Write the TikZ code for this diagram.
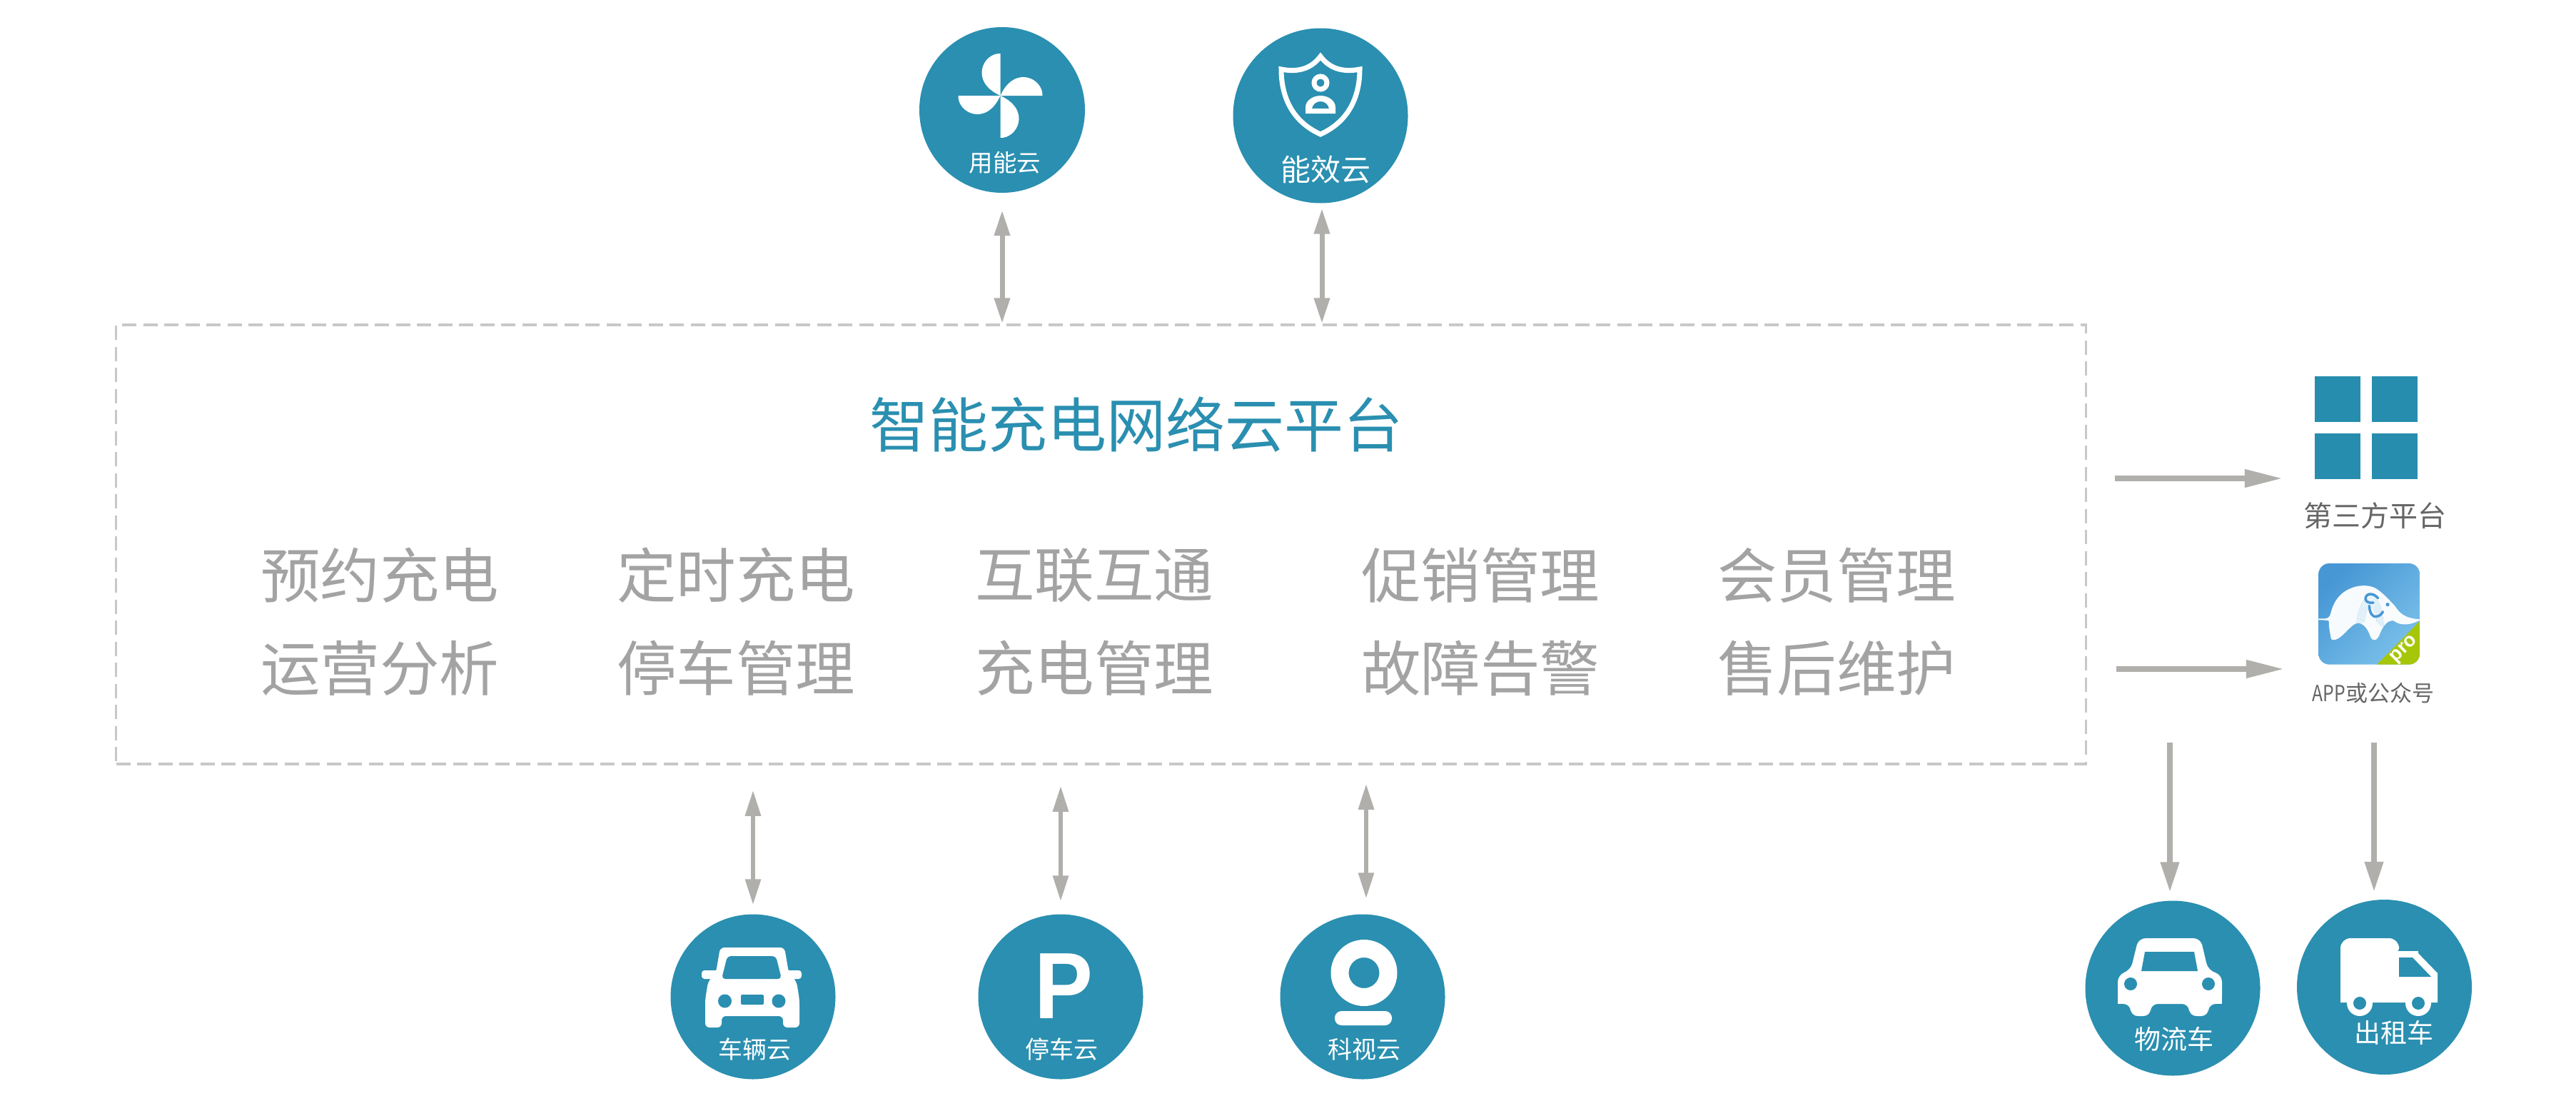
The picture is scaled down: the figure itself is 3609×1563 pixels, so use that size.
\documentclass[tikz,border=0pt]{standalone}
\usepackage{fontspec}
\usepackage{graphicx}
\setmainfont{Noto Sans CJK SC}
\newfontfamily\latinbold[BoldFont=Liberation Sans Bold]{Liberation Sans}
\usetikzlibrary{arrows.meta,calc}
\definecolor{teal1}{HTML}{2A8FB0}
\definecolor{teal2}{HTML}{278DAE}
\definecolor{arrowgrey}{HTML}{B0AFAB}
\definecolor{dashgrey}{HTML}{C8C8C8}
\definecolor{textgrey}{HTML}{A3A3A3}
\definecolor{labelgrey}{HTML}{666666}
\definecolor{appgreen}{HTML}{A6C60A}
\definecolor{appblueA}{HTML}{4797D5}
\definecolor{appblueB}{HTML}{7AC0E9}
\tikzset{
  disc/.style={circle,fill=teal1,inner sep=0pt,minimum size=#1},
  disclabel/.style={text=white,inner sep=0pt,font=\fontsize{#1}{#1}\selectfont},
  gridtext/.style={text=textgrey,inner sep=0pt,font=\fontsize{83.5}{90}\selectfont},
  square/.style={fill=teal2,inner sep=0pt,minimum size=64pt},
  biarrow/.style={draw=arrowgrey,line width=7pt,{Triangle[length=36pt,width=21pt]}-{Triangle[length=36pt,width=21pt]}},
  biarrowthin/.style={draw=arrowgrey,line width=6pt,{Triangle[length=36pt,width=21pt]}-{Triangle[length=36pt,width=21pt]}},
  downarrow/.style={draw=arrowgrey,line width=7.5pt,-{Triangle[length=42pt,width=25pt]}},
  rightarrow/.style={draw=arrowgrey,line width=7.5pt,-{Triangle[length=53pt,width=24pt]}},
}
\begin{document}
\begin{tikzpicture}[x=1pt,y=-1pt]
\useasboundingbox (0,0) rectangle (3609,1563);
\fill[white] (0,0) rectangle (3609,1563);

% main box
\node[draw=dashgrey,line width=3.5pt,dash pattern=on 20pt off 9.5pt,inner sep=0pt,
      minimum width=2760pt,minimum height=615pt] (box) at (1542.5,762.5) {};
\node[text=teal1,inner sep=0pt,font=\fontsize{83}{90}\selectfont] (title) at (1592,595) {智能充电网络云平台};
\node[gridtext] (g11) at (532,806) {预约充电};
\node[gridtext] (g12) at (1031,806) {定时充电};
\node[gridtext] (g13) at (1533,806) {互联互通};
\node[gridtext] (g14) at (2074,806) {促销管理};
\node[gridtext] (g15) at (2573,806) {会员管理};
\node[gridtext] (g21) at (532,936) {运营分析};
\node[gridtext] (g22) at (1031,936) {停车管理};
\node[gridtext] (g23) at (1533,936) {充电管理};
\node[gridtext] (g24) at (2074,936) {故障告警};
\node[gridtext] (g25) at (2573,936) {售后维护};

% discs
\node[disc=232pt] (yn) at (1404,154) {};
\node[disc=245pt] (nx) at (1850,162) {};
\node[disc=231pt] (cl) at (1055,1396) {};
\node[disc=231pt] (pk) at (1486,1396) {};
\node[disc=231pt] (ks) at (1909,1396) {};
\node[disc=245pt] (wl) at (3044,1384) {};
\node[disc=245pt] (cz) at (3340.5,1382.5) {};

% labels
\node[disclabel=33.5] (ynl) at (1408,228) {用能云};
\node[disclabel=42] (nxl) at (1857,238) {能效云};
\node[disclabel=34] (cll) at (1057,1470) {车辆云};
\node[disclabel=34] (pkl) at (1487,1470) {停车云};
\node[disclabel=34] (ksl) at (1911,1470) {科视云};
\node[disclabel=37] (wll) at (3046,1455) {物流车};
\node[disclabel=37] (czl) at (3354,1446) {出租车};

% pinwheel icon
\foreach \a in {0,90,180,270}
  \fill[white,shift={(1401.5,134)},rotate=\a] (0,0) -- (0,-59) .. controls (-24,-60) and (-44,-20) .. (0,0) -- cycle;

% shield icon
\draw[white,line width=7pt,line join=miter,miter limit=10]
  (1850,79) .. controls (1838,95) and (1820,102) .. (1795,97)
  .. controls (1795,135) and (1810,170) .. (1850,188)
  .. controls (1890,170) and (1905,135) .. (1905,97)
  .. controls (1880,102) and (1862,95) .. (1850,79) -- cycle;
\draw[white,line width=7pt] (1850,116) circle[radius=9];
\fill[white,even odd rule]
  (1829,159) -- (1829,150) .. controls (1829,142) and (1838,134) .. (1850,134)
  .. controls (1862,134) and (1871,142) .. (1871,150) -- (1871,159) -- cycle
  (1838,152) .. controls (1839,146) and (1844,142) .. (1850,142)
  .. controls (1856,142) and (1861,146) .. (1862,152) -- cycle;

% car icon (vehicle cloud)
\fill[white,rounded corners=6pt]
  (1003,1362) -- (1009,1327) -- (1099,1327) -- (1105,1362) -- (1116,1375) -- (1120,1400)
  -- (1120,1439) -- (1097,1439) -- (1097,1423) -- (1011,1423) -- (1011,1439) -- (988,1439)
  -- (988,1400) -- (992,1375) -- cycle;
\fill[white,rounded corners=4pt] (983,1359) rectangle (1123,1371);
\fill[teal1,rounded corners=5pt] (1019,1339) -- (1087,1339) -- (1095,1371) -- (1011,1371) -- cycle;
\fill[teal1] (1015.5,1402) circle[radius=9.5];
\fill[teal1] (1091,1402) circle[radius=9.5];
\fill[teal1,rounded corners=2pt] (1038,1393) rectangle (1070,1407);

% P icon
\node[text=white,inner sep=0pt,font=\latinbold\bfseries\fontsize{132}{132}\selectfont] (pglyph) at (1490,1381) {\scalebox{.93}[1]{P}};

% camera icon
\fill[white,even odd rule] (1911,1362.5) circle[radius=46.5] (1911,1362.5) circle[radius=21.5];
\fill[white,rounded corners=9.5pt] (1870,1416) rectangle (1950,1436);

% car icon (logistics)
\fill[white,rounded corners=10pt]
  (2985,1359) -- (2996,1314) -- (3083,1314) -- (3093.5,1359) -- (3113,1365) -- (3113,1406)
  -- (3094,1406) -- (3094,1423) -- (3067,1423) -- (3067,1406) -- (3013,1406) -- (3013,1423)
  -- (2985,1423) -- (2985,1406) -- (2967,1406) -- (2967,1365) -- cycle;
\fill[white] (2967,1385) rectangle (3113,1406);
\fill[white] (3013,1400) rectangle (3067,1406);
\fill[white] (2975,1385) rectangle (3105,1400);
\fill[teal1] (3005,1333) -- (3074,1333) -- (3079,1360) -- (3000,1360) -- cycle;
\fill[teal1] (2985,1378) circle[radius=9];
\fill[teal1] (3094,1378) circle[radius=9];

% truck icon
\fill[white,rounded corners=14pt]
  (3279,1404) -- (3279,1314) -- (3361,1314) -- (3361,1340) -- (3355,1332) [sharp corners] -- (3385,1332) -- (3415,1363) -- (3415,1404) -- cycle;
\fill[white] (3355,1332) rectangle (3388,1345);
\fill[white] (3306,1405) circle[radius=18];
\fill[white] (3388,1405) circle[radius=18];
\fill[teal1] (3361,1341) -- (3380,1341) -- (3406,1368) -- (3361,1368) -- cycle;
\fill[teal1] (3306,1405) circle[radius=9];
\fill[teal1] (3388,1405) circle[radius=9];

% third-party platform
\node[square] (s1) at (3275,559) {};
\node[square] (s2) at (3355,559) {};
\node[square] (s3) at (3275,639) {};
\node[square] (s4) at (3355,639) {};
\node[text=labelgrey,inner sep=0pt,font=\fontsize{40}{40}\selectfont] (tpl) at (3327,722) {第三方平台};

% app icon
\node[inner sep=0pt,minimum size=142pt] (app) at (3319,860) {};
\begin{scope}[shift={(3240,780)},x=.33333pt,y=-.33333pt]
  \begin{scope}
    \clip[rounded corners=15pt] (25,27) rectangle (450,452);
    \shade[top color=appblueA,bottom color=appblueB,shading angle=45] (25,27) rectangle (450,452);
    \fill[appgreen] (450,270) -- (450,452) -- (270,452) -- cycle;
    \fill[white,opacity=.96]
      (25,259) -- (52,259) .. controls (65,259) and (72,250) .. (75,240)
      .. controls (85,195) and (110,150) .. (165,130)
      .. controls (195,118) and (240,115) .. (270,135)
      .. controls (300,155) and (325,185) .. (345,205)
      .. controls (365,235) and (385,258) .. (450,262)
      -- (450,266)
      .. controls (420,282) and (375,295) .. (340,268)
      .. controls (315,265) and (295,290) .. (282,325)
      .. controls (272,350) and (255,360) .. (243,335)
      .. controls (232,305) and (220,285) .. (195,278)
      .. controls (170,275) and (145,315) .. (118,335)
      .. controls (100,350) and (85,352) .. (78,345)
      .. controls (72,315) and (68,295) .. (68,268)
      .. controls (60,266) and (45,265) .. (25,265) -- cycle;
    \foreach \s in {0.9,0.8,0.7,0.6,0.5,0.4}
      \draw[appblueB,opacity=.45,line width=.7pt]
        ($(245,250)+(-70*\s,60*\s)$) .. controls ($(245,250)+(-55*\s,-150*\s)$) and ($(245,250)+(55*\s,-150*\s)$) .. ($(245,250)+(60*\s,60*\s)$);
    \draw[appblueA,line width=3.5pt,line cap=round,line join=round]
      (275,173) .. controls (255,150) and (225,150) .. (222,175)
      .. controls (222,190) and (240,195) .. (255,192)
      (238,205) .. controls (240,235) and (250,255) .. (270,250)
      .. controls (282,248) and (290,240) .. (295,230);
    \fill[appblueA] (315,200) circle[radius=2.6pt];
  \end{scope}
\end{scope}
\node[text=white,inner sep=0pt,rotate=45,font=\latinbold\bfseries\fontsize{27}{27}\selectfont] (pro) at (3369,910) {pro};
\node[text=labelgrey,inner sep=0pt,font=\fontsize{31}{31}\selectfont] (appl) at (3325,971) {\scalebox{.8}[1]{APP}或公众号};

% connectors
\draw[biarrow,shorten <=24pt,shorten >=0pt] (yn.south) -- (yn.south |- box.north);
\draw[biarrow,shorten <=7pt,shorten >=0pt] ([xshift=2pt]nx.south) -- ([xshift=2pt]nx.south |- box.north);
\draw[biarrowthin,shorten <=13pt,shorten >=35pt] (cl.north) -- (cl.north |- box.south);
\draw[biarrowthin,shorten <=18pt,shorten >=29pt] (pk.north) -- (pk.north |- box.south);
\draw[biarrowthin,shorten <=22pt,shorten >=26pt] ([xshift=5pt]ks.north) -- ([xshift=5pt]ks.north |- box.south);
\coordinate (wlstart) at (3040,1040);
\coordinate (czstart) at (3326,1040);
\coordinate (tpstart) at (2963,670);
\coordinate (appstart) at (2965,937);
\draw[downarrow,shorten >=12pt] (wlstart) -- (wlstart |- wl.north);
\draw[downarrow,shorten >=11pt] (czstart) -- (czstart |- cz.north);
\draw[rightarrow,shorten >=45pt] (tpstart) -- (tpstart -| s3.west);
\draw[rightarrow,shorten >=48pt] (appstart) -- (appstart -| app.west);
\end{tikzpicture}
\end{document}
